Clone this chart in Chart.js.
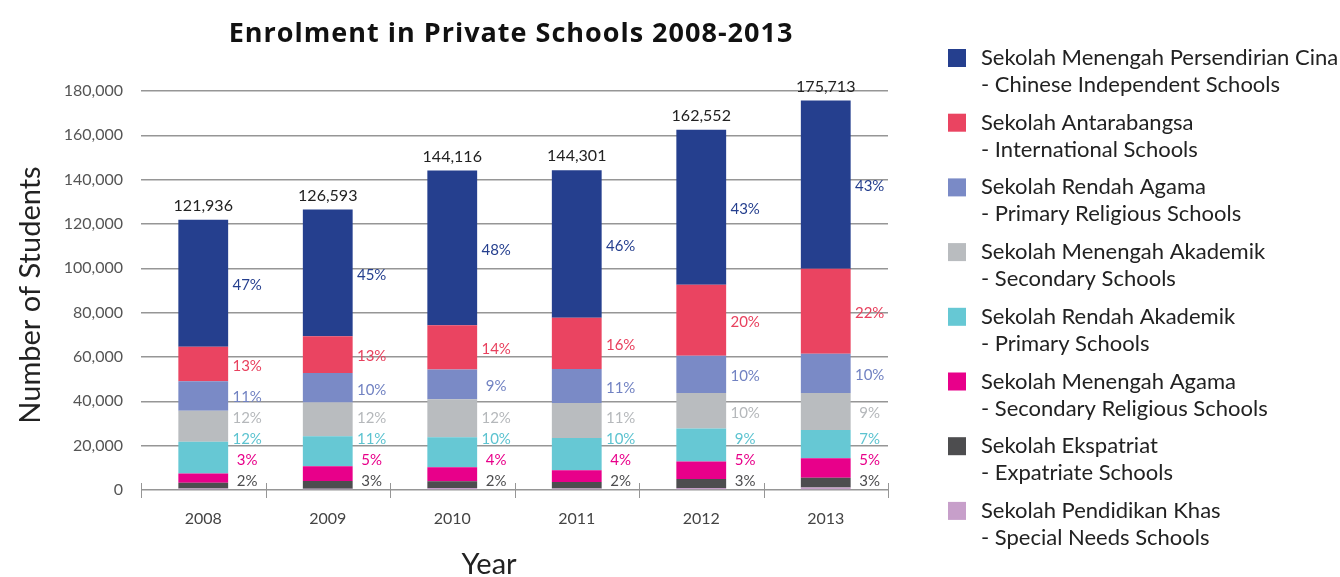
<!DOCTYPE html>
<html><head><meta charset="utf-8">
<script src="https://cdn.jsdelivr.net/npm/chart.js@4.4.0/dist/chart.umd.min.js"></script>
<style>html,body{margin:0;padding:0;background:#fff;} #wrap{width:1340px;height:577px;position:relative;}</style>
</head><body><div id="wrap"><canvas id="c" width="1340" height="577"></canvas></div>
<script>
const years = ["2008","2009","2010","2011","2012","2013"];
const totals = [121936,126593,144116,144301,162552,175713];
const totalLabels = ["121,936","126,593","144,116","144,301","162,552","175,713"];
const chineseIndependent = [57300,57200,69800,66600,70000,75900];
const international = [15600,16600,20000,23100,32000,38300];
const primaryReligious = [13300,13300,13400,15400,16800,17800];
const secondary = [14000,15300,17100,15700,16000,16600];
const primary = [14300,13500,13600,14600,14900,12800];
const secondaryReligious = [4200,6600,6300,5300,7900,8800];
const expatriate = [2600,3500,3000,2900,4000,4400];
const specialNeeds = [636,593,916,701,952,1113];
const pctChinese = ["47%","45%","48%","46%","43%","43%"];
const pctInternational = ["13%","13%","14%","16%","20%","22%"];
const pctPrimaryReligious = ["11%","10%","9%","11%","10%","10%"];
const pctSecondary = ["12%","12%","12%","11%","10%","9%"];
const pctPrimary = ["12%","11%","10%","10%","9%","7%"];
const pctSecondaryReligious = ["3%","5%","4%","4%","5%","5%"];
const pctExpatriate = ["2%","3%","2%","2%","3%","3%"];
const yMin = 0, yMax = 180000, yStep = 20000;
const titleText = "Enrolment in Private Schools 2008-2013";
const yTitle = "Number of Students";
const xTitle = "Year";

// stacking order: bottom first
const series = [
  {l1:"Sekolah Pendidikan Khas", l2:"- Special Needs Schools", color:"#c79fca", text:null, data:specialNeeds, pct:null},
  {l1:"Sekolah Ekspatriat", l2:"- Expatriate Schools", color:"#4d4d4f", text:"#4d4d4f", data:expatriate, pct:pctExpatriate},
  {l1:"Sekolah Menengah Agama", l2:"- Secondary Religious Schools", color:"#e8008a", text:"#e8008a", data:secondaryReligious, pct:pctSecondaryReligious},
  {l1:"Sekolah Rendah Akademik", l2:"- Primary Schools", color:"#66c8d4", text:"#5cc3d0", data:primary, pct:pctPrimary},
  {l1:"Sekolah Menengah Akademik", l2:"- Secondary Schools", color:"#b9bcbf", text:"#b5b8bb", data:secondary, pct:pctSecondary},
  {l1:"Sekolah Rendah Agama", l2:"- Primary Religious Schools", color:"#7a8ac6", text:"#7182c2", data:primaryReligious, pct:pctPrimaryReligious},
  {l1:"Sekolah Antarabangsa", l2:"- International Schools", color:"#ea4461", text:"#e8415e", data:international, pct:pctInternational},
  {l1:"Sekolah Menengah Persendirian Cina", l2:"- Chinese Independent Schools", color:"#253f8e", text:"#253f8e", data:chineseIndependent, pct:pctChinese}
];

const FONT = "Lato, 'Open Sans', 'DejaVu Sans', sans-serif";

const overlay = {
  id:'overlay',
  afterDatasetsDraw(chart){
    const ctx = chart.ctx, area = chart.chartArea;
    const n = years.length;
    ctx.save();
    // category boundary ticks on x axis
    ctx.strokeStyle = '#969696'; ctx.lineWidth = 1;
    for (let i=0;i<=n;i++){
      const px = Math.round(area.left + i*(area.right-area.left)/n)+0.5;
      ctx.beginPath(); ctx.moveTo(px, area.bottom-7); ctx.lineTo(px, area.bottom+8); ctx.stroke();
    }
    // percentage labels
    ctx.textAlign='center'; ctx.textBaseline='middle';
    for (let j=0;j<n;j++){
      ctx.font = `15px ${FONT}`;
      let prev = area.bottom + 12;
      series.forEach((s,i)=>{
        if(!s.pct) return;
        const el = chart.getDatasetMeta(i).data[j];
        const mid = (el.y + el.base)/2 + 2;
        const ly = Math.min(mid, prev-21);
        prev = ly;
        ctx.fillStyle = s.text;
        ctx.fillText(s.pct[j], el.x + el.width/2 + 19, ly);
      });
      // totals
      const top = chart.getDatasetMeta(series.length-1).data[j];
      ctx.fillStyle = '#222';
      ctx.font = `16px ${FONT}`;
      ctx.fillText(totalLabels[j], top.x, top.y - 14);
    }
    // title
    ctx.textBaseline='alphabetic';
    ctx.font = `bold 27px 'Open Sans', ${FONT}`; ctx.fillStyle='#111';
    if ('letterSpacing' in ctx) ctx.letterSpacing = '1px';
    ctx.fillText(titleText, 511, 42);
    if ('letterSpacing' in ctx) ctx.letterSpacing = '0px';
    // axis titles
    ctx.textBaseline='middle';
    ctx.font = `29px ${FONT}`; ctx.fillStyle='#222';
    ctx.fillText(xTitle, 489, 565);
    ctx.save(); ctx.translate(31, 295); ctx.rotate(-Math.PI/2);
    ctx.fillText(yTitle, 0, 0); ctx.restore();
    // legend (top series first)
    ctx.textAlign='left';
    ctx.font = `22px ${FONT}`;
    const legendItems = series.slice().reverse();
    legendItems.forEach((s,k)=>{
      const cy = 58 + k*64.7;
      ctx.fillStyle = s.color;
      ctx.fillRect(948, cy-9, 18, 18);
      ctx.fillStyle = '#222';
      ctx.fillText(s.l1, 981, cy);
      ctx.fillText(s.l2, 981, cy+27);
    });
    ctx.restore();
  }
};

new Chart(document.getElementById('c'), {
  type:'bar',
  data:{
    labels: years,
    datasets: series.map(s=>({label:s.l1+' '+s.l2, data:s.data, backgroundColor:s.color, borderWidth:0}))
  },
  options:{
    responsive:false, animation:false, devicePixelRatio:1,
    layout:{padding:{left:0, top:91, right:452, bottom:27}},
    datasets:{bar:{barPercentage:0.8, categoryPercentage:0.5}},
    plugins:{legend:{display:false}, title:{display:false}, tooltip:{enabled:false}},
    scales:{
      x:{
        stacked:true,
        grid:{display:false, drawTicks:false},
        border:{display:false},
        ticks:{font:{family:FONT, size:16}, color:'#444', padding:19},
        afterFit(s){ s.height = 60; }
      },
      y:{
        stacked:true, min:yMin, max:yMax,
        grid:{color:'#969696', lineWidth:1.5, drawTicks:false},
        border:{display:false},
        ticks:{stepSize:yStep, font:{family:FONT, size:16}, color:'#555', padding:18,
          callback:(v)=>Number(v).toLocaleString('en-US')},
        afterFit(s){ s.width = 141; }
      }
    }
  },
  plugins:[overlay]
});
</script></body></html>
